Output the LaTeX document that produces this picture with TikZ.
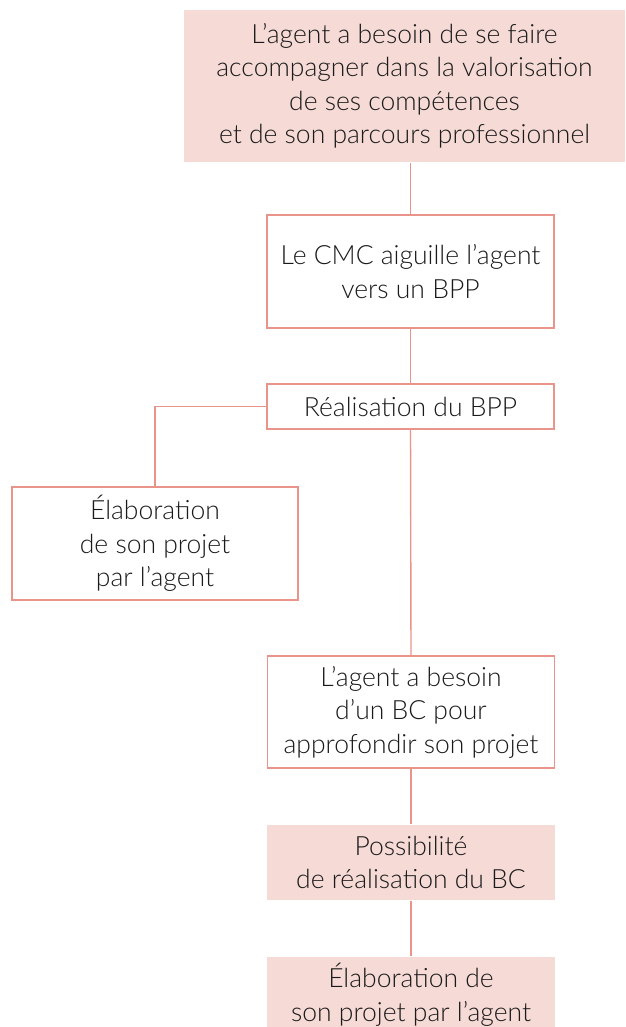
\documentclass[tikz,border=0pt]{standalone}
\usepackage{fontspec}
\setmainfont{Lato Light}

\definecolor{saumon}{HTML}{E8948B}
\definecolor{rosepale}{HTML}{F5DAD6}
\definecolor{encre}{HTML}{1A1A1A}

\begin{document}
\begin{tikzpicture}[x=1pt, y=-1pt,
    etape/.style={draw=saumon, line width=1.4pt, fill=white, text=encre,
        align=center, inner sep=0pt, minimum width=287pt,
        font=\fontsize{26.5}{33.5}\selectfont},
    etapefond/.style={etape, draw=none, fill=rosepale},
    lien/.style={draw=saumon, line width=1.4pt}]

    \clip (0,0) rectangle (625,1027);
    \useasboundingbox (0,0) rectangle (625,1027);

    % etapes
    \node[etapefond, minimum width=441pt, minimum height=152pt] (besoin) at (404.5,86)
        {L’agent a besoin de se faire\\accompagner dans la valorisation\\de ses compétences\\ et de son parcours professionnel};
    \node[etape, minimum height=113pt] (cmc) at (410.5,271.5)
        {Le CMC aiguille l’agent\\vers un BPP};
    \node[etape, minimum height=45pt] (bpp) at (410.5,406.5)
        {Réalisation du BPP};
    \node[etape, minimum width=286pt, minimum height=113pt] (projet) at (155,543.5)
        {Élaboration\\de son projet\\par l’agent};
    \node[etape, minimum height=112pt] (bc) at (411,712)
        {L’agent a besoin\\d’un BC pour\\approfondir son projet};
    \node[etapefond, minimum width=288pt, minimum height=75pt] (possible) at (411,862.5)
        {Possibilité\\de réalisation du BC};
    \node[etapefond, minimum width=288pt, minimum height=75pt] (fin) at (411,994.5)
        {Élaboration de\\son projet par l’agent};

    % liaisons
    \draw[lien] (besoin.south -| cmc.north) -- (cmc.north);
    \draw[lien] (cmc.south) -- (bpp.north);
    \draw[lien] (bpp.west) -| (projet.north);
    \draw[lien] (bpp.south) -- (bc.north);
    \draw[lien] (bc.south) -- (possible.north);
    \draw[lien] (possible.south) -- (fin.north);

\end{tikzpicture}
\end{document}
